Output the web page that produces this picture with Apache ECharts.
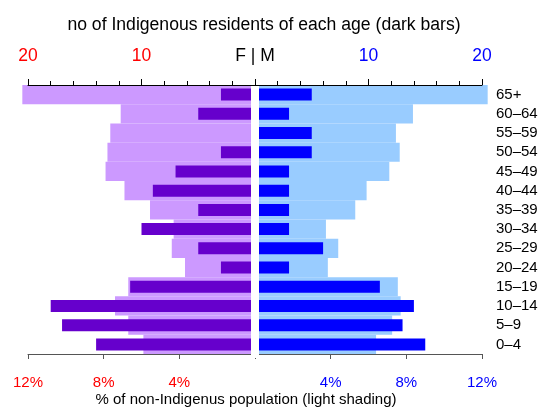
<!DOCTYPE html>
<html>
<head>
<meta charset="utf-8">
<script src="https://cdn.jsdelivr.net/npm/echarts@6/dist/echarts.min.js"></script>
<style>
html,body{margin:0;padding:0;background:#fff;}
#chart{width:541px;height:408px;}
</style>
</head>
<body>
<div id="chart"></div>
<script>
// Age groups, bottom to top
var ageGroups = ['0\u20134','5\u20139','10\u201314','15\u201319','20\u201324','25\u201329','30\u201334','35\u201339','40\u201344','45\u201349','50\u201354','55\u201359','60\u201364','65+'];
// Indigenous residents (counts, dark bars)
var femaleIndigenous = [14, 17, 18, 11, 3, 5, 10, 5, 9, 7, 3, 0, 5, 3];
var maleIndigenous   = [15, 13, 14, 11, 3, 6, 3, 3, 3, 3, 5, 5, 3, 5];
// Non-Indigenous population (% , light shading)
var femaleNonIndigenousPct = [5.9, 6.7, 7.4, 6.7, 3.7, 4.4, 4.3, 5.55, 6.9, 7.9, 7.8, 7.65, 7.1, 12.3];
var maleNonIndigenousPct   = [6.4, 7.25, 7.7, 7.55, 3.85, 4.4, 3.75, 5.3, 5.9, 7.1, 7.65, 7.45, 8.35, 12.3];
// Axis ticks
var countTicks = {min: 0, max: 20, interval: 10};
var pctTicks = {min: 0, max: 12, interval: 4};

var FONT = 'Liberation Sans, Arial, sans-serif';
var chart = echarts.init(document.getElementById('chart'), null, {renderer: 'canvas'});

function countAxis(grid, inverse, color) {
  return {
    type: 'value', gridIndex: grid, position: 'top', inverse: inverse,
    min: countTicks.min, max: countTicks.max, interval: countTicks.interval, z: 10,
    axisLine: {show: true, lineStyle: {color: '#000', width: 1}},
    axisTick: {show: true, length: 6, lineStyle: {color: '#000'}},
    minorTick: {show: true, splitNumber: 5, length: 4, lineStyle: {color: '#000'}},
    splitLine: {show: false},
    axisLabel: {
      margin: 20, fontSize: 17.5, fontFamily: FONT, color: color,
      formatter: function (v) {
        if (v === 0) return inverse ? '{fm|F | M}' : '';
        return String(v);
      },
      rich: {fm: {color: '#000', fontSize: 17.5, fontFamily: FONT}}
    }
  };
}
function pctAxis(grid, inverse, color) {
  return {
    type: 'value', gridIndex: grid, position: 'bottom', inverse: inverse,
    min: pctTicks.min, max: pctTicks.max, interval: pctTicks.interval, z: 10,
    axisLine: {show: true, lineStyle: {color: '#555', width: 1}},
    axisTick: {show: true, length: 5, lineStyle: {color: '#555'}},
    splitLine: {show: false},
    axisLabel: {
      margin: 21, fontSize: 15, fontFamily: FONT, color: color,
      formatter: function (v) { return v === 0 ? '' : v + '%'; }
    }
  };
}
function catAxis(grid, showLabels) {
  return {
    type: 'category', gridIndex: grid, data: ageGroups, position: 'right',
    axisLine: {show: false}, axisTick: {show: false}, splitLine: {show: false},
    axisLabel: {show: showLabels, interval: 0, margin: 14, fontSize: 15, fontFamily: FONT, color: '#000', align: 'left'}
  };
}

var option = {
  backgroundColor: '#fff',
  animation: false,
  title: [
    {text: 'no of Indigenous residents of each age (dark bars)', left: 264, top: 16, textAlign: 'center', padding: 0,
     textStyle: {fontSize: 17.6, fontWeight: 'normal', color: '#000', fontFamily: FONT}},
    {text: '% of non-Indigenus population (light shading)', left: 246, top: 392, textAlign: 'center', padding: 0,
     textStyle: {fontSize: 15, fontWeight: 'normal', color: '#000', fontFamily: FONT}}
  ],
  grid: [
    {left: 28, top: 85, width: 227, height: 269},
    {left: 255, top: 85, width: 227, height: 269}
  ],
  xAxis: [
    countAxis(0, true, '#ff0000'),
    pctAxis(0, true, '#ff0000'),
    countAxis(1, false, '#0000ff'),
    pctAxis(1, false, '#0000ff')
  ],
  yAxis: [
    catAxis(0, false),
    catAxis(0, false),
    catAxis(1, true),
    catAxis(1, false)
  ],
  series: [
    {type: 'bar', name: 'F non-Indigenous %', xAxisIndex: 1, yAxisIndex: 0, data: femaleNonIndigenousPct,
     barCategoryGap: '0%', clip: false, itemStyle: {color: '#cc99ff'}, z: 2},
    {type: 'bar', name: 'M non-Indigenous %', xAxisIndex: 3, yAxisIndex: 2, data: maleNonIndigenousPct,
     barCategoryGap: '0%', clip: false, itemStyle: {color: '#99ccff'}, z: 2},
    {type: 'bar', name: 'F Indigenous', xAxisIndex: 0, yAxisIndex: 1, data: femaleIndigenous,
     barWidth: 12, itemStyle: {color: '#6600cc'}, z: 3},
    {type: 'bar', name: 'M Indigenous', xAxisIndex: 2, yAxisIndex: 3, data: maleIndigenous,
     barWidth: 12, itemStyle: {color: '#0000ff'}, z: 3}
  ],
  graphic: [
    {type: 'rect', z: 100, silent: true, shape: {x: 251, y: 86, width: 8, height: 272}, style: {fill: '#fff'}}
  ]
};
chart.setOption(option);
</script>
</body>
</html>
